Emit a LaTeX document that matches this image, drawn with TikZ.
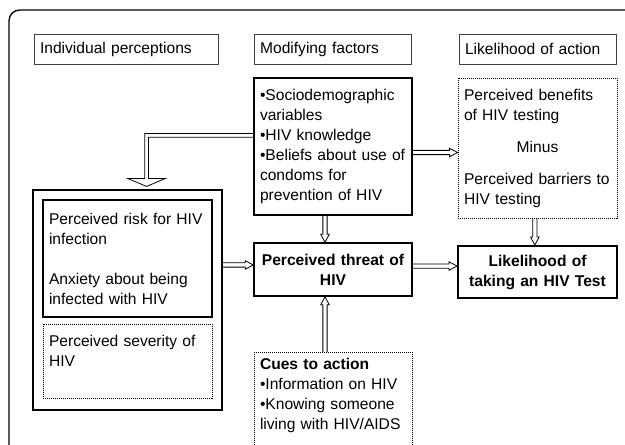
\documentclass[tikz,border=0pt]{standalone}
\usepackage{fontspec}
\setmainfont{Liberation Sans}
\usetikzlibrary{calc}

\tikzset{
  box/.style={draw, line width=1.1pt, inner xsep=4.5pt, inner ysep=0pt, align=left,
    font=\fontsize{11.7}{15}\selectfont},
  header/.style={box, draw=black!75, line width=0.6pt, minimum height=22.5pt},
  dotbox/.style={box, line width=0.6pt, dash pattern=on 0.75pt off 0.75pt},
  arrowline/.style={draw, line width=0.6pt, line join=miter},
  blockarrow/.style={arrowline, to path={
    let \p1=(\tikztostart), \p2=(\tikztotarget),
        \n1={atan2(\y2-\y1,\x2-\x1)}, \n2={veclen(\x2-\x1,\y2-\y1)} in
    ([shift={(\p1)}, rotate=\n1]0pt,1.6pt)
    -- ([shift={(\p1)}, rotate=\n1]\n2-6pt,1.6pt)
    -- ([shift={(\p1)}, rotate=\n1]\n2-6pt,3.2pt)
    -- (\p2)
    -- ([shift={(\p1)}, rotate=\n1]\n2-6pt,-3.2pt)
    -- ([shift={(\p1)}, rotate=\n1]\n2-6pt,-1.6pt)
    -- ([shift={(\p1)}, rotate=\n1]0pt,-1.6pt)}}
}

\begin{document}
\begin{tikzpicture}[x=0.75pt, y=-0.75pt]
  \useasboundingbox (0,0) rectangle (625,444);
  \clip (0,0) rectangle (625,444);

  % Draw the frame
  \draw[line width=1pt, rounded corners=8pt] (9,470) |- (650,10);

  % Draw the column headers
  \node[header, text width=129pt] (ip) at (126,49) {Individual perceptions};
  \node[header, text width=109pt] (mf) at (332.75,49) {Modifying factors};
  \node[header, text width=108.75pt] (la) at (537.5,49) {Likelihood of action};

  % Draw the boxes
  \node[box, text width=109.5pt, minimum height=102.75pt] (mod) at (333,146.5)
    {•Sociodemographic\\variables\\•HIV knowledge\\•Beliefs about use of\\condoms for\\prevention of HIV};
  \node[dotbox, text width=110.25pt, minimum height=105pt] (labox) at (537.5,148)
    {Perceived benefits\\of HIV testing\\[9pt]\makebox[\hsize]{Minus}\\[9pt]Perceived barriers to\\HIV testing};
  \node[box, line width=0.9pt, minimum width=141.75pt, minimum height=165pt] (outerl) at (127.5,300) {};
  \node[box, text width=117.75pt, minimum height=87.75pt] (risk) at (127.5,258.5)
    {Perceived risk for HIV\\infection\\[15pt]Anxiety about being\\infected with HIV};
  \node[dotbox, text width=117.75pt, minimum height=55.5pt] (sev) at (127.5,361)
    {Perceived severity of\\HIV\\\mbox{}};
  \node[box, align=center, text width=109.5pt, minimum height=39.75pt, font=\fontsize{11.7}{15}\selectfont\bfseries]
    (threat) at (333,269.5) {Perceived threat of\\HIV};
  \node[box, line width=1.5pt, align=center, text width=110.25pt, minimum height=39pt, font=\fontsize{11.7}{15}\selectfont\bfseries]
    (test) at (537.5,272) {Likelihood of\\taking an HIV Test};
  \node[dotbox, anchor=north, text width=109.5pt, inner ysep=4pt, text depth=80pt] (cues) at (333,352)
    {\textbf{Cues to action}\\•Information on HIV\\•Knowing someone\\living with HIV/AIDS};

  % Draw the bent arrow
  \coordinate (bstart) at ([yshift=8.3pt]mod.west);
  \coordinate (btip) at ([xshift=14.3pt, yshift=2.25pt]outerl.north);
  \draw[arrowline] ([yshift=1.4pt]bstart) -| ([xshift=-1.4pt, yshift=6pt]btip)
    -- ([xshift=-14.25pt, yshift=6pt]btip) -- (btip) -- ([xshift=14.25pt, yshift=6pt]btip)
    -- ([xshift=1.4pt, yshift=6pt]btip) |- ([yshift=-1.4pt]bstart);

  % Draw the arrows
  \draw[blockarrow] ([yshift=-4.5pt]mod.east) to ([yshift=-4.5pt]mod.east -| labox.west);
  \draw[blockarrow] ([xshift=-6pt]mod.south) to ([xshift=-6pt]mod.south |- threat.north);
  \draw[blockarrow] ([xshift=-2pt]labox.south) to ([xshift=-2pt]labox.south |- test.north);
  \draw[blockarrow] ([yshift=2.6pt]threat.east) to ([yshift=2.6pt]threat.east -| test.west);
  \draw[blockarrow] ([yshift=3.4pt]threat.west -| outerl.east) to ([yshift=3.4pt]threat.west);
  \draw[blockarrow] ([xshift=-6pt]cues.north) to ([xshift=-6pt]cues.north |- threat.south);
\end{tikzpicture}
\end{document}
